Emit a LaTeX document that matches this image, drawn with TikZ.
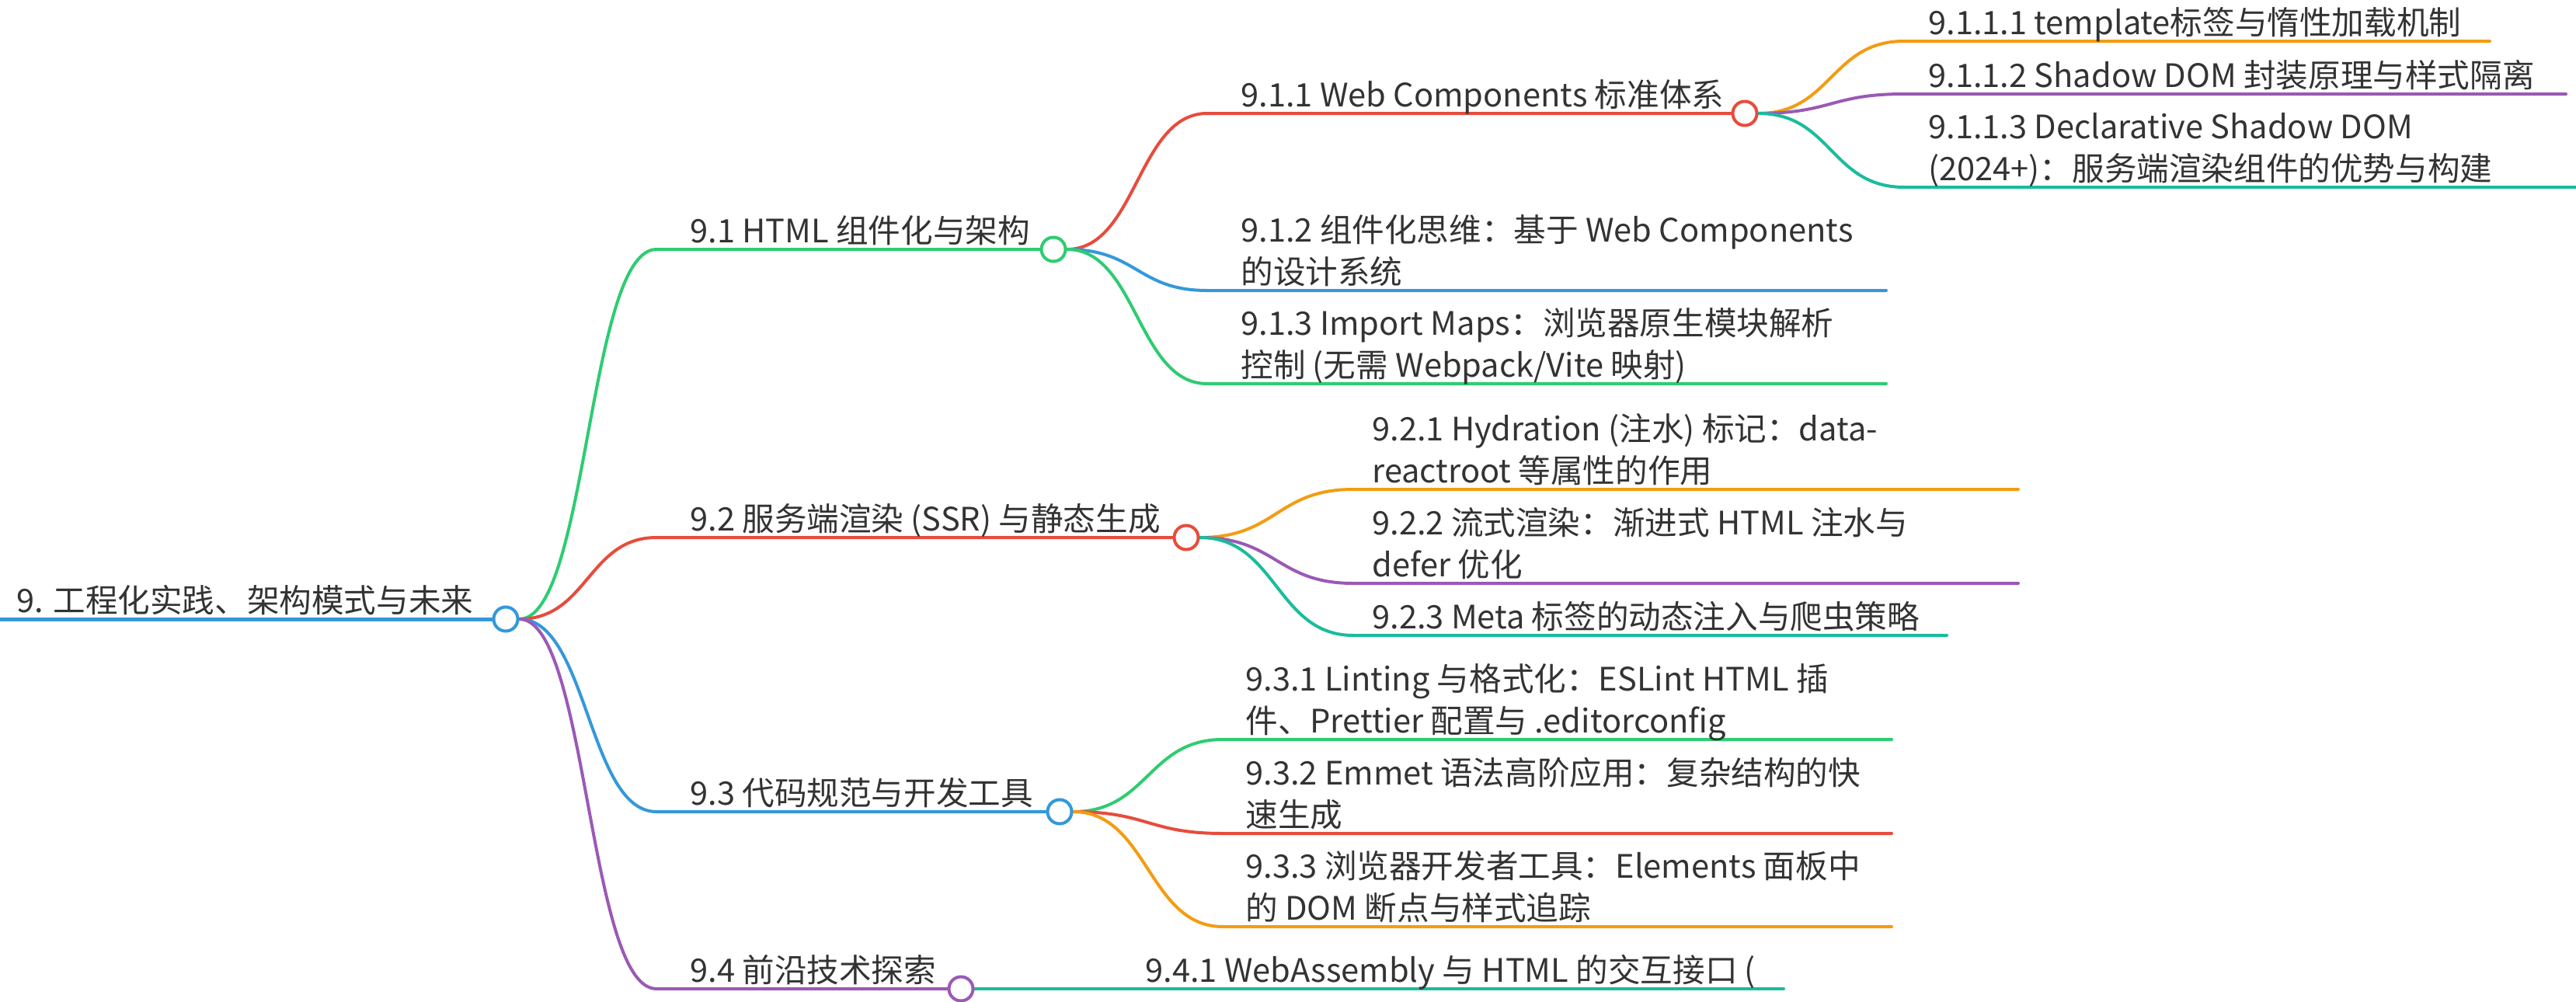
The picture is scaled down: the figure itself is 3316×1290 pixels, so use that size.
\documentclass[tikz,border=0pt]{standalone}
\usepackage{fontspec}
\setmainfont{Noto Sans CJK SC}
\usetikzlibrary{positioning,backgrounds,calc}

\definecolor{mmblue}{HTML}{3498DB}
\definecolor{mmgreen}{HTML}{2ECC71}
\definecolor{mmred}{HTML}{E74C3C}
\definecolor{mmpurple}{HTML}{9B59B6}
\definecolor{mmorange}{HTML}{F39C12}
\definecolor{mmteal}{HTML}{1ABC9C}
\definecolor{txtgray}{HTML}{333333}

\begin{document}
\begin{tikzpicture}[
    x=0.5pt, y=-0.5pt,
    topic/.style={anchor=south west, inner sep=0pt, text depth=4pt, align=left, text=txtgray, font=\fontsize{20.8pt}{27pt}\selectfont},
    knot/.style={circle, draw, fill=white, line width=2pt, minimum size=15.5pt, inner sep=0pt},
    branch/.style={line width=2pt, line cap=round},
]
\useasboundingbox (0,0) rectangle (3316,1290);

% Root
\coordinate (s0) at (0,797);
\node[topic] (t0) at (21,797) {9. 工程化实践、架构模式与未来};
\node[knot, draw=mmblue] (n0) at (651,797) {};

% First level
\coordinate (s91) at (845,321);
\node[topic] (t91) at (888,321) {9.1 HTML 组件化与架构};
\node[knot, draw=mmgreen] (n91) at (1356,321) {};
\coordinate (s92) at (845,692);
\node[topic] (t92) at (888,692) {9.2 服务端渲染 (SSR) 与静态生成};
\node[knot, draw=mmred] (n92) at (1527,692) {};
\coordinate (s93) at (845,1045);
\node[topic] (t93) at (888,1045) {9.3 代码规范与开发工具};
\node[knot, draw=mmblue] (n93) at (1364,1045) {};
\coordinate (s94) at (845,1273);
\node[topic] (t94) at (888,1273) {9.4 前沿技术探索};
\node[knot, draw=mmpurple] (n94) at (1237,1273) {};

% 9.1 children
\coordinate (s911) at (1554,146);
\node[topic] (t911) at (1597,146) {9.1.1 Web Components 标准体系};
\node[knot, draw=mmred] (n911) at (2246,146) {};
\coordinate (s912) at (1554,374);
\coordinate (e912) at (2428,374);
\node[topic] (t912) at (1597,374) {9.1.2 组件化思维：基于 Web Components\\的设计系统};
\coordinate (s913) at (1554,494);
\coordinate (e913) at (2428,494);
\node[topic] (t913) at (1597,494) {9.1.3 Import Maps：浏览器原生模块解析\\控制 (无需 Webpack/Vite 映射)};

% 9.1.1 children
\coordinate (s9111) at (2451,53);
\coordinate (e9111) at (3205,53);
\node[topic] (t9111) at (2482,53) {9.1.1.1 template标签与惰性加载机制};
\coordinate (s9112) at (2451,121);
\coordinate (e9112) at (3303,121);
\node[topic] (t9112) at (2482,121) {9.1.1.2 Shadow DOM 封装原理与样式隔离};
\coordinate (s9113) at (2451,241);
\coordinate (e9113) at (3316,241);
\node[topic] (t9113) at (2482,241) {9.1.1.3 Declarative Shadow DOM\\(2024+)：服务端渲染组件的优势与构建};

% 9.2 children
\coordinate (s921) at (1742,630);
\coordinate (e921) at (2598,630);
\node[topic] (t921) at (1766,630) {9.2.1 Hydration (注水) 标记：data-\\reactroot 等属性的作用};
\coordinate (s922) at (1742,751);
\coordinate (e922) at (2598,751);
\node[topic] (t922) at (1766,751) {9.2.2 流式渲染：渐进式 HTML 注水与\\defer 优化};
\coordinate (s923) at (1742,818);
\coordinate (e923) at (2506,818);
\node[topic] (t923) at (1766,818) {9.2.3 Meta 标签的动态注入与爬虫策略};

% 9.3 children
\coordinate (s931) at (1574,952);
\coordinate (e931) at (2435,952);
\node[topic] (t931) at (1603,952) {9.3.1 Linting 与格式化：ESLint HTML 插\\件、Prettier 配置与 .editorconfig};
\coordinate (s932) at (1574,1073);
\coordinate (e932) at (2435,1073);
\node[topic] (t932) at (1603,1073) {9.3.2 Emmet 语法高阶应用：复杂结构的快\\速生成};
\coordinate (s933) at (1574,1193);
\coordinate (e933) at (2435,1193);
\node[topic] (t933) at (1603,1193) {9.3.3 浏览器开发者工具：Elements 面板中\\的 DOM 断点与样式追踪};

% 9.4 child
\coordinate (s941) at (1449,1273);
\coordinate (e941) at (2296,1273);
\node[topic] (t941) at (1474,1273) {9.4.1 WebAssembly 与 HTML 的交互接口 (};

% Branches behind the knots
\begin{scope}[on background layer]
\draw[branch, mmblue, line width=2.5pt] (s0) -- (n0.west);
\draw[branch, mmgreen] (n0.east) .. controls +(88,0) and +(-88,0) .. (s91) -- (n91.west);
\draw[branch, mmred] (n0.east) .. controls +(88,0) and +(-88,0) .. (s92) -- (n92.west);
\draw[branch, mmblue] (n0.east) .. controls +(88,0) and +(-88,0) .. (s93) -- (n93.west);
\draw[branch, mmpurple] (n0.east) .. controls +(88,0) and +(-88,0) .. (s94) -- (n94.west);

\draw[branch, mmred] (n91.east) .. controls +(90,0) and +(-90,0) .. (s911) -- (n911.west);
\draw[branch, mmblue] (n91.east) .. controls +(90,0) and +(-90,0) .. (s912) -- (e912);
\draw[branch, mmgreen] (n91.east) .. controls +(90,0) and +(-90,0) .. (s913) -- (e913);

\draw[branch, mmorange] (n911.east) .. controls +(94,0) and +(-94,0) .. (s9111) -- (e9111);
\draw[branch, mmpurple] (n911.east) .. controls +(94,0) and +(-94,0) .. (s9112) -- (e9112);
\draw[branch, mmteal] (n911.east) .. controls +(94,0) and +(-94,0) .. (s9113) -- (e9113);

\draw[branch, mmorange] (n92.east) .. controls +(99,0) and +(-99,0) .. (s921) -- (e921);
\draw[branch, mmpurple] (n92.east) .. controls +(99,0) and +(-99,0) .. (s922) -- (e922);
\draw[branch, mmteal] (n92.east) .. controls +(99,0) and +(-99,0) .. (s923) -- (e923);

\draw[branch, mmgreen] (n93.east) .. controls +(96,0) and +(-96,0) .. (s931) -- (e931);
\draw[branch, mmred] (n93.east) .. controls +(96,0) and +(-96,0) .. (s932) -- (e932);
\draw[branch, mmorange] (n93.east) .. controls +(96,0) and +(-96,0) .. (s933) -- (e933);

\draw[branch, mmteal] (n94.east) -- (s941) -- (e941);
\end{scope}

\end{tikzpicture}
\end{document}
